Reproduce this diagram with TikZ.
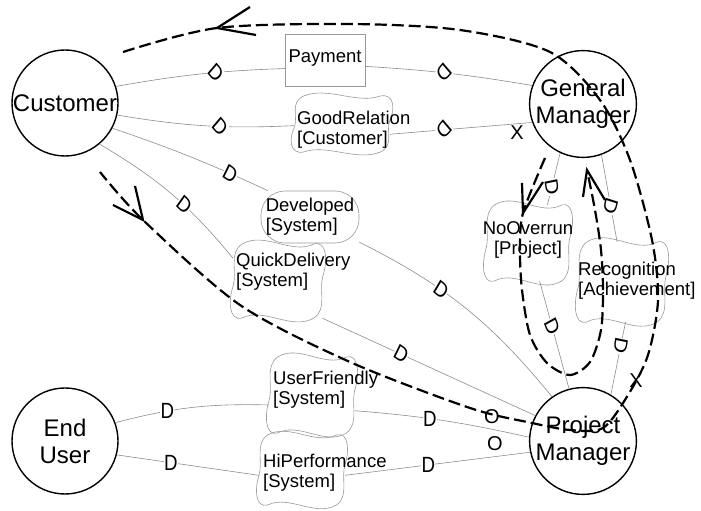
\documentclass[tikz,border=0pt]{standalone}
\usepackage{fontspec}
\setmainfont{Liberation Sans}
\definecolor{lineg}{gray}{0.55}
\definecolor{boxg}{gray}{0.6}
\begin{document}
\begin{tikzpicture}[x=1pt,y=1pt,
  actor/.style={circle,draw,line width=1.4pt,minimum size=106pt,inner sep=0pt,align=center,font=\fontsize{24}{27}\selectfont},
  resource/.style={rectangle,draw=boxg,line width=0.6pt,minimum width=74pt,minimum height=52pt,text depth=8pt,font=\fontsize{18.5}{20}\selectfont},
  goal/.style={rectangle,rounded corners=24pt,draw=boxg,line width=0.6pt,minimum width=98pt,minimum height=52pt},
  sgarea/.style={rectangle,inner sep=0pt},
  sgtext/.style={align=left,inner sep=0pt,font=\fontsize{18.5}{20}\selectfont},
  sgline/.style={draw=boxg,line width=0.6pt},
  dep/.style={draw=lineg,line width=0.6pt},
  dmark/.style={fill=white,inner sep=0.2pt,xscale=0.85,font=\fontsize{22}{22}\selectfont},
  tag/.style={inner sep=0pt,font=\fontsize{20}{20}\selectfont},
  flow/.style={line width=2.2pt,dash pattern=on 12pt off 5pt},
  barb/.style={line width=2.2pt},
  pics/softgoal/.style args={#1/#2}{code={
    \draw[sgline] ({-0.8*#1},{#2}) .. controls ({-0.3*#1},{1.35*#2}) and ({0.3*#1},{0.7*#2}) .. ({0.8*#1},{#2})
      .. controls ({1.1*#1},{1.1*#2}) and ({1.1*#1},{0.5*#2}) .. ({#1},{0.15*#2})
      .. controls ({0.9*#1},{-0.25*#2}) and ({1.1*#1},{-0.75*#2}) .. ({0.8*#1},{-#2})
      .. controls ({0.3*#1},{-1.35*#2}) and ({-0.3*#1},{-0.7*#2}) .. ({-0.8*#1},{-#2})
      .. controls ({-1.1*#1},{-1.1*#2}) and ({-1.1*#1},{-0.5*#2}) .. ({-#1},{-0.15*#2})
      .. controls ({-0.9*#1},{0.25*#2}) and ({-1.1*#1},{0.75*#2}) .. ({-0.8*#1},{#2}) -- cycle;
  }}]
  \useasboundingbox (0,0) rectangle (701,511);

  \node[actor] (cust) at (65,408) {Customer};
  \node[actor] (gm) at (583,407) {General\\Manager};
  \node[actor] (eu) at (65,70) {End\\User};
  \node[actor] (pm) at (583,70) {Project\\Manager};

  \node[resource] (pay) at (325,451) {Payment};
  \node[sgarea,minimum width=96pt,minimum height=56pt] (good) at (342,387) {};
  \pic at (good) {softgoal=48/28};
  \node[sgtext,anchor=west] (goodtxt) at (297,381) {GoodRelation\\{}[Customer]};
  \node[goal,sgtext] (dev) at (310,294) {Developed\\{}[System]};
  \node[sgarea,minimum width=90pt,minimum height=74pt] (quick) at (278,230) {};
  \pic at (quick) {softgoal=45/37};
  \node[sgtext,anchor=west] (quicktxt) at (236,239) {QuickDelivery\\{}[System]};
  \node[sgarea,minimum width=84pt,minimum height=76pt] (noov) at (528,268) {};
  \pic at (noov) {softgoal=42/38};
  \node[sgtext,align=center] (noovtxt) at (528,271) {NoOverrun\\{}[Project]};
  \node[sgarea,minimum width=88pt,minimum height=80pt] (recog) at (622,229) {};
  \pic at (recog) {softgoal=44/40};
  \node[sgtext,anchor=west] (recogtxt) at (578,230) {Recognition\\{}[Achievement]};
  \node[sgarea,minimum width=86pt,minimum height=76pt] (userf) at (312,116) {};
  \pic at (userf) {softgoal=43/38};
  \node[sgtext,anchor=west] (userftxt) at (273,121) {UserFriendly\\{}[System]};
  \node[sgarea,minimum width=86pt,minimum height=70pt] (hiperf) at (302,41) {};
  \pic at (hiperf) {softgoal=43/35};
  \node[sgtext,anchor=west] (hiperftxt) at (263,38) {HiPerformance\\{}[System]};

  \draw[dep] (cust.18) to[bend left=4] node[dmark,pos=0.6,rotate=-45] {D} (pay.192);
  \draw[dep] (pay.-9) to[bend left=3] node[dmark,pos=0.47,rotate=-135] {D} (gm.160);
  \draw[dep] (cust.-13) to[bend right=6] node[dmark,pos=0.59,rotate=-45] {D} (good.182);
  \draw[dep] (good.-12) -- node[dmark,pos=0.38,rotate=-135] {D} (gm.200);
  \draw[dep] (cust.-28) to[bend left=3] node[dmark,pos=0.77,rotate=-30] {D} (dev.148);
  \draw[dep] (dev.-27) to[bend left=12] node[dmark,pos=0.37,rotate=-35] {D} (pm.125);
  \draw[dep] (cust.-50) to[bend left=10] node[dmark,pos=0.6,rotate=-40] {D} (quick.153);
  \draw[dep] (quick.-40) -- node[dmark,pos=0.37,rotate=-30] {D} (pm.152);
  \draw[dep] (gm.245) -- node[dmark,pos=0.66,rotate=-80] {D} (noov.63);
  \draw[dep] (noov.-73) -- node[dmark,pos=0.42,rotate=-65] {D} (pm.105);
  \draw[dep] (gm.-70) -- node[dmark,pos=0.59,rotate=-105] {D} (recog.97);
  \draw[dep] (recog.-85) -- node[dmark,pos=0.33,rotate=-100] {D} (pm.59);
  \draw[dep] (eu.20) to[bend left=8] node[dmark,pos=0.33] {D} (userf.193);
  \draw[dep] (userf.-20) to[bend left=4] node[dmark,pos=0.42] {D} (pm.176);
  \draw[dep] (eu.-15) -- node[dmark,pos=0.38] {D} (hiperf.187);
  \draw[dep] (hiperf.-7) -- node[dmark,pos=0.45] {D} (pm.192);

  \draw[flow] plot[smooth,tension=0.5] coordinates {(123,459) (217,483) (350,487) (460,481) (550,459) (600,411) (630,351) (652,271) (658,211) (648,156) (628,116) (603,83) (570,81) (532,88) (470,103) (350,149) (240,206) (143,291) (100,339)};
  \draw[barb] (250,504) -- (217,483) -- (256,476);
  \draw[barb] (135,325) -- (143,291) -- (113,306);

  \draw[flow] plot[smooth,tension=0.5] coordinates {(545,353) (523,298) (520,261) (522,221) (530,176) (547,148) (570,136) (590,149) (601,181) (603,221) (601,261) (595,301) (587,341)};
  \draw[barb] (522,328) -- (523,298) -- (543,329);
  \draw[barb] (583,314) -- (587,341) -- (605,311);

  \node[tag] (x1) at (517,378) {X};
  \node[tag] (x2) at (636,130) {X};
  \node[tag] (o1) at (492,94) {O};
  \node[tag] (o2) at (495,67) {O};
\end{tikzpicture}
\end{document}
